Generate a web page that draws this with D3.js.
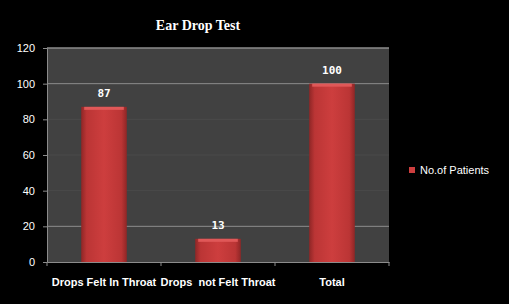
<!DOCTYPE html>
<html>
<head>
<meta charset="utf-8">
<script src="https://cdn.jsdelivr.net/npm/d3@7"></script>
<style>
  body { margin: 0; background: #000; }
  svg { display: block; }
</style>
</head>
<body>
<div class="chart"></div>
<script>
var width = 509;
var height = 304;

var categories = ["Drops Felt In Throat", "Drops  not Felt Throat", "Total"];
var patients = [87, 13, 100];
var yTicks = [0, 20, 40, 60, 80, 100, 120];
var seriesName = "No.of Patients";

var margin = { top: 48, left: 47, right: 120, bottom: 42 };
var plotW = width - margin.left - margin.right;
var plotH = height - margin.top - margin.bottom;

var svg = d3.select(".chart").append("svg")
  .attr("width", width)
  .attr("height", height);

svg.append("rect").attr("width", width).attr("height", height).attr("fill", "#000");

// bar gradient
var defs = svg.append("defs");
var grad = defs.append("linearGradient").attr("id", "barGrad")
  .attr("x1", "0%").attr("x2", "100%").attr("y1", "0%").attr("y2", "0%");
grad.append("stop").attr("offset", "0%").attr("stop-color", "#8f2626");
grad.append("stop").attr("offset", "12%").attr("stop-color", "#bb3535");
grad.append("stop").attr("offset", "50%").attr("stop-color", "#cd3e3e");
grad.append("stop").attr("offset", "88%").attr("stop-color", "#bb3535");
grad.append("stop").attr("offset", "100%").attr("stop-color", "#8f2626");

var g = svg.append("g").attr("transform", "translate(" + margin.left + "," + margin.top + ")");

var x = d3.scaleBand().domain(categories).range([0, plotW]).paddingInner(0.6).paddingOuter(0.3);
var y = d3.scaleLinear().domain([0, 120]).range([plotH, 0]);

// plot area
g.append("rect").attr("width", plotW).attr("height", plotH).attr("fill", "#414141");

// gridlines
g.selectAll(".grid").data(yTicks.filter(function (d) { return d > 0; }))
  .enter().append("line")
  .attr("x1", 0).attr("x2", plotW)
  .attr("y1", function (d) { return y(d); })
  .attr("y2", function (d) { return y(d); })
  .attr("stroke", function (d) { return d === 20 || d === 100 || d === 120 ? "#8c8c8c" : "#4a4a4a"; })
  .attr("stroke-width", function (d) { return d === 120 ? 1.5 : 1; });

// bars
var bars = g.selectAll(".bar").data(patients).enter().append("g");
bars.append("rect")
  .attr("x", function (d, i) { return x(categories[i]); })
  .attr("y", function (d) { return y(d); })
  .attr("width", x.bandwidth())
  .attr("height", function (d) { return plotH - y(d); })
  .attr("fill", "url(#barGrad)");
bars.append("rect")
  .attr("x", function (d, i) { return x(categories[i]) + 3; })
  .attr("y", function (d) { return y(d); })
  .attr("width", x.bandwidth() - 6)
  .attr("height", 3)
  .attr("fill", "#e05858");

// value labels
g.selectAll(".val").data(patients).enter().append("text")
  .attr("x", function (d, i) { return x(categories[i]) + x.bandwidth() / 2; })
  .attr("y", function (d) { return y(d) - 10; })
  .attr("text-anchor", "middle")
  .attr("fill", "#fff")
  .style("font", "bold 11px 'DejaVu Sans Mono', monospace")
  .text(function (d) { return d; });

// y axis
var yAxis = g.append("g").call(d3.axisLeft(y).tickValues(yTicks).tickSize(4).tickPadding(8));
yAxis.select(".domain").attr("stroke", "#8c8c8c");
yAxis.selectAll(".tick line").attr("stroke", "#8c8c8c");
yAxis.selectAll("text").attr("fill", "#fff")
  .style("font", "11px 'Liberation Sans', sans-serif");

// x axis
var xAxis = g.append("g").attr("transform", "translate(0," + plotH + ")")
  .call(d3.axisBottom(x).tickSize(0).tickPadding(16));
xAxis.select(".domain").attr("stroke", "#8c8c8c");
xAxis.selectAll("text").attr("fill", "#fff")
  .style("font", "bold 11px 'Liberation Sans Narrow', 'Liberation Sans', sans-serif")
  .style("white-space", "pre");
var half = x.step() * x.paddingInner() / 2;
var bounds = categories.map(function (c) { return x(c) - half; }).concat([plotW]);
xAxis.selectAll(".sep").data(bounds).enter().append("line")
  .attr("x1", function (d) { return d; }).attr("x2", function (d) { return d; })
  .attr("y1", 0).attr("y2", 4)
  .attr("stroke", "#8c8c8c");

// title
svg.append("text")
  .attr("x", 198).attr("y", 30)
  .attr("text-anchor", "middle")
  .attr("fill", "#fff")
  .style("font", "bold 14px 'Liberation Serif', serif")
  .text("Ear Drop Test");

// legend
var legend = svg.append("g").attr("id", "legend").attr("transform", "translate(409,167)");
legend.append("rect").attr("width", 6).attr("height", 6).attr("fill", "#cd3e3e");
legend.append("text").attr("x", 11).attr("y", 7)
  .attr("fill", "#fff")
  .style("font", "11px 'Liberation Sans', sans-serif")
  .text(seriesName);
</script>
</body>
</html>
